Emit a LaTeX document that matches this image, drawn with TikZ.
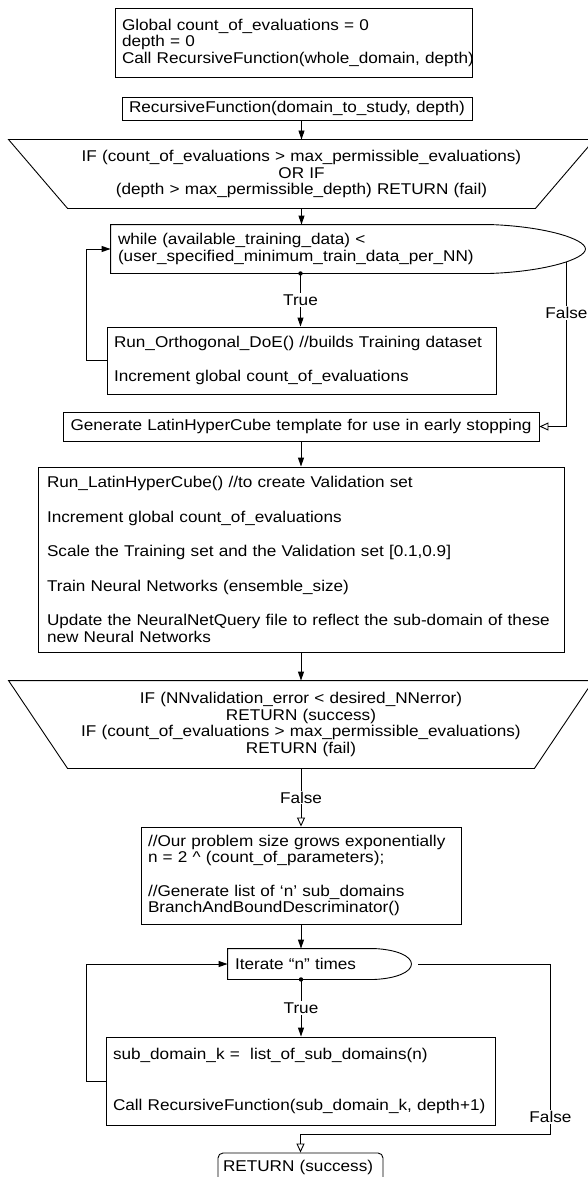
\documentclass[tikz,border=0pt]{standalone}
\usepackage{fontspec}
\setmainfont{Liberation Sans}[FakeStretch=1.10]
\usetikzlibrary{arrows.meta,calc}
\newcommand\chartfont{\fontsize{15.6pt}{16.5pt}\selectfont}

\begin{document}
\begin{tikzpicture}[x=1pt,y=-1pt,line width=0.9pt,font=\chartfont,
  box/.style={draw,rectangle,inner xsep=7pt,inner ysep=0pt,
    execute at begin node={\parindent=0pt\leftskip=0pt\rightskip=0pt plus 1fil minus 1000pt\relax}},
  plain/.style={box,draw=none},
  cond/.style={rectangle,inner sep=0pt,align=center},
  lbl/.style={fill=white,inner sep=1.2pt},
  arr/.style={-{Triangle[length=9pt,width=6pt]}},
  oarr/.style={-{Triangle[open,length=9pt,width=8pt]}}]
\useasboundingbox (0,0) rectangle (587,1177);
% start:
\node[box,text width=343pt,minimum height=69pt] (init) at (293.5,42.5) {Global count\_of\_evaluations = 0\\depth = 0\\Call RecursiveFunction(whole\_domain, depth)};
\node[box,text width=336pt,minimum height=23pt] (recfun) at (297,108.5) {RecursiveFunction(domain\_to\_study, depth)};
\node[cond,text width=467pt,minimum height=68pt] (check1) at (301.5,174) {IF (count\_of\_evaluations > max\_permissible\_evaluations)\\OR IF\\(depth > max\_permissible\_depth) RETURN (fail)};
\draw ($(check1.north west)+(-59,0)$) -- ($(check1.north east)+(59,0)$) -- (check1.south east) -- (check1.south west) -- cycle;
\draw[arr] (recfun.south -| check1.north) -- (check1.north);
% training loop:
\node[plain,text width=365pt,minimum height=48pt] (whileloop) at (300.5,249) {while (available\_training\_data) <\\(user\_specified\_minimum\_train\_data\_per\_NN)};
\coordinate (wtip) at ($(whileloop.east)+(95,0)$);
\coordinate (wfalse) at ($(wtip)+(-19,13)$);
\draw (whileloop.north west) -- (whileloop.north east) .. controls +(55,2) and +(0,-10) .. (wtip) .. controls +(0,10) and +(55,-2) .. (whileloop.south east) -- (whileloop.south west) -- cycle;
\fill (whileloop.south) circle[radius=2.2pt];
\draw[arr] (check1.south) -- (check1.south |- whileloop.north);
\node[box,text width=375pt,minimum height=67pt] (orth) at (301.5,360.5) {Run\_Orthogonal\_DoE() //builds Training dataset\\[18pt]Increment global count\_of\_evaluations};
\draw[arr] (whileloop.south) -- node[lbl] (t1) {True} (whileloop.south |- orth.north);
\draw[arr] (orth.west) -- ++(-20,0) |- (whileloop.west);
\node[cond,draw,text width=476pt,minimum height=29pt] (gen) at (301,426.5) {Generate LatinHyperCube template for use in early stopping};
\draw[oarr] (wfalse) |- node[lbl,pos=0.155] (f1) {False} (gen.east);
% networks:
\node[box,inner xsep=9pt,text width=508pt,minimum height=185pt] (nn) at (301,559.5) {Run\_LatinHyperCube() //to create Validation set\\[18pt]Increment global count\_of\_evaluations\\[18pt]Scale the Training set and the Validation set [0.1,0.9]\\[18pt]Train Neural Networks (ensemble\_size)\\[18pt]Update the NeuralNetQuery file to reflect the sub-domain of these\\new Neural Networks};
\draw[arr] (gen.south) -- (nn.north);
\node[cond,text width=466pt,minimum height=87pt] (check2) at (301,724.5) {IF (NNvalidation\_error < desired\_NNerror)\\RETURN (success)\\IF (count\_of\_evaluations > max\_permissible\_evaluations)\\RETURN (fail)};
\draw ($(check2.north west)+(-59,0)$) -- ($(check2.north east)+(59,0)$) -- (check2.south east) -- (check2.south west) -- cycle;
\draw[arr] (nn.south) -- (check2.north);
% branching:
\node[box,text width=306pt,minimum height=97pt] (branch) at (301,875.5) {//Our problem size grows exponentially\\n = 2 \textasciicircum{} (count\_of\_parameters);\\[17pt]//Generate list of ‘n’ sub\_domains\\BranchAndBoundDescriminator()};
\draw[oarr] (check2.south) -- node[lbl] (f2) {False} (branch.north);
\node[plain,text width=132pt,minimum height=30pt] (iter) at (301,964) {Iterate “n” times};
\coordinate (itip) at ($(iter.east)+(37,0)$);
\draw (iter.north west) -- (iter.north east) .. controls +(22,1) and +(0,-8) .. (itip) .. controls +(0,8) and +(22,-1) .. (iter.south east) -- (iter.south west) -- cycle;
\fill (iter.south) circle[radius=2.2pt];
\draw[arr] (branch.south) -- (iter.north);
\node[box,text width=375pt,minimum height=88pt] (sub) at (300.5,1081) {sub\_domain\_k =~ list\_of\_sub\_domains(n)\\[34pt]Call RecursiveFunction(sub\_domain\_k, depth+1)};
\draw[arr] (iter.south) -- node[lbl] (t2) {True} (iter.south |- sub.north);
\draw[arr] (sub.west) -- ++(-19,0) |- (iter.west);
% end:
\node[box,inner xsep=5pt,rounded corners=5pt,text width=155pt,minimum height=29pt] (ret) at (300.5,1167.5) {RETURN (success)};
\coordinate (iout) at ($(itip)+(7,0)$);
\coordinate (ifar) at ($(iout)+(132,170)$);
\draw[oarr] (iout) -| node[lbl,pos=0.95] (f3) {False} (ifar) -| (ret.north);
\end{tikzpicture}
\end{document}
